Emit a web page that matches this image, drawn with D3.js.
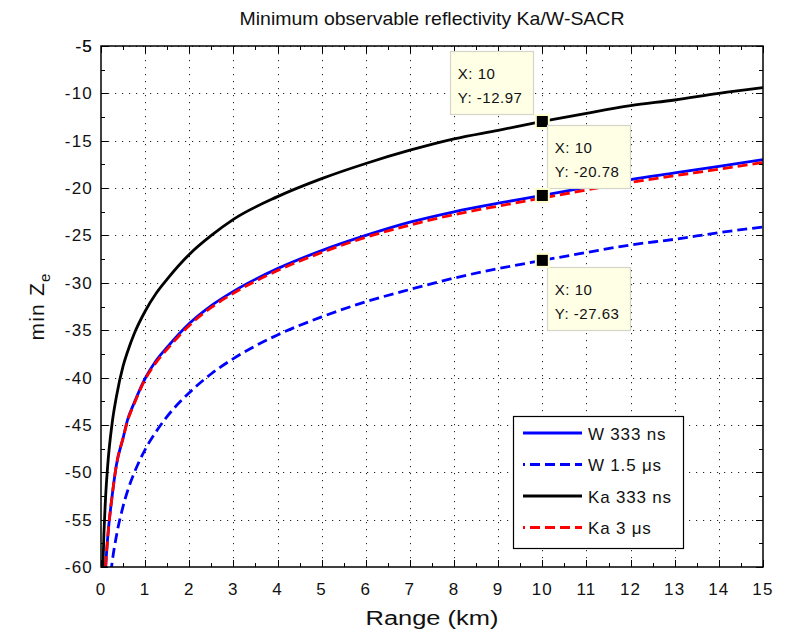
<!DOCTYPE html>
<html>
<head>
<meta charset="utf-8">
<script src="https://cdn.jsdelivr.net/npm/d3@7"></script>
<style>
  html, body { margin: 0; padding: 0; background: #fff; }
  svg { display: block; font-family: "Liberation Sans", Arial, sans-serif; }
</style>
</head>
<body>
<svg id="chart" width="787" height="634"></svg>
<script>
// Range samples (km)
const ranges = [0.03, 0.05, 0.1, 0.15, 0.25, 0.35, 0.5, 0.6, 0.75, 1, 1.25, 1.5, 2, 2.5, 3, 4, 5, 6, 7, 8, 9, 10, 11, 12, 13, 14, 15];

// Minimum detectable reflectivity (dBZ) for each radar mode
const w333ns = [-71.0, -66.5, -60.5, -57.0, -52.6, -49.2, -46.4, -44.5, -42.7, -40.1, -38.2, -36.8, -34.3, -32.4, -30.9, -28.5, -26.6, -25.0, -23.6, -22.5, -21.6, -20.78, -19.9, -19.1, -18.4, -17.7, -17.0];
const w1500ns = [-78.0, -73.5, -67.6, -64.1, -59.6, -56.7, -53.6, -52.0, -50.1, -47.6, -45.7, -44.1, -41.6, -39.6, -38.0, -35.5, -33.6, -32.0, -30.7, -29.5, -28.5, -27.63, -26.8, -26.0, -25.4, -24.7, -24.1];
const ka333ns = [-63.5, -59.0, -53.0, -49.4, -44.9, -42.0, -38.8, -37.3, -35.4, -33.0, -31.1, -29.6, -27.0, -25.0, -23.3, -20.9, -19.0, -17.4, -16.0, -14.8, -13.9, -12.97, -12.1, -11.3, -10.7, -10.0, -9.4];
const ka3us = [-71.0, -66.5, -60.5, -57.0, -52.6, -49.2, -46.4, -44.6, -42.8, -40.2, -38.4, -37.0, -34.5, -32.6, -31.1, -28.7, -26.8, -25.2, -23.9, -22.8, -21.9, -21.05, -20.2, -19.4, -18.7, -18.0, -17.3];

const seriesNames = ["W 333 ns", "W 1.5 \u03bcs", "Ka 333 ns", "Ka 3 \u03bcs"];
const seriesColors = ["#0000ff", "#0000ff", "#000000", "#ff0000"];
const seriesDashed = [false, true, false, true];
const seriesValues = [w333ns, w1500ns, ka333ns, ka3us];

// Data cursors at 10 km
const tipX = [10, 10, 10];
const tipY = [-12.97, -20.78, -27.63];

const xTicks = d3.range(0, 16, 1);
const yTicks = d3.range(-60, 0, 5);

const svg = d3.select("#chart");
const pL = 101, pR = 763, pT = 46, pB = 567;

const x = d3.scaleLinear().domain([0, 15]).range([pL, pR]);
const y = d3.scaleLinear().domain([-60, -5]).range([pB, pT]);

// Grid
const grid = svg.append("g").attr("stroke", "#222").attr("stroke-width", 1)
  .attr("stroke-dasharray", "1.2,5.8");
grid.selectAll(".gx").data(xTicks.slice(1, -1)).join("line")
  .attr("x1", d => Math.round(x(d)) + 0.5).attr("x2", d => Math.round(x(d)) + 0.5)
  .attr("y1", pT).attr("y2", pB);
grid.selectAll(".gy").data(yTicks.slice(1)).join("line")
  .attr("y1", d => Math.round(y(d)) + 0.5).attr("y2", d => Math.round(y(d)) + 0.5)
  .attr("x1", pL).attr("x2", pR);

// Series lines
svg.append("clipPath").attr("id", "plotclip").append("rect")
  .attr("x", pL).attr("y", pT).attr("width", pR - pL).attr("height", pB - pT);

const line = d3.line().x(d => x(d[0])).y(d => y(d[1])).curve(d3.curveMonotoneX);
const plot = svg.append("g").attr("clip-path", "url(#plotclip)");
seriesValues.forEach((vals, i) => {
  plot.append("path")
    .datum(ranges.map((r, k) => [r, vals[k]]))
    .attr("fill", "none")
    .attr("stroke", seriesColors[i])
    .attr("stroke-width", 2.8)
    .attr("stroke-dasharray", seriesDashed[i] ? "10,5" : null)
    .attr("d", line);
});

// Axes (ticks inward, on all four sides)
const minorX = d3.range(0.5, 15, 1);
const minorY = d3.range(-57.5, -5, 5);
const axes = svg.append("g").attr("stroke", "#000");
function tickSet(vals, len, scale, horizontal) {
  vals.forEach(v => {
    const p = Math.round(scale(v)) + 0.5;
    if (horizontal) {
      axes.append("line").attr("x1", p).attr("x2", p).attr("y1", pB).attr("y2", pB - len);
      axes.append("line").attr("x1", p).attr("x2", p).attr("y1", pT).attr("y2", pT + len);
    } else {
      axes.append("line").attr("y1", p).attr("y2", p).attr("x1", pL).attr("x2", pL + len);
      axes.append("line").attr("y1", p).attr("y2", p).attr("x1", pR).attr("x2", pR - len);
    }
  });
}
tickSet(xTicks, 7, x, true);
tickSet(minorX, 4, x, true);
tickSet(yTicks.concat([-5]), 7, y, false);
tickSet(minorY, 4, y, false);
axes.append("rect").attr("x", pL).attr("y", pT).attr("width", pR - pL).attr("height", pB - pT)
  .attr("fill", "none").attr("stroke-width", 1.5);

// Tick labels
svg.append("g").selectAll("text").data(xTicks).join("text")
  .attr("x", d => x(d)).attr("y", pB + 28)
  .attr("text-anchor", "middle").attr("font-size", 17).attr("letter-spacing", 1.2).attr("fill", "#111")
  .text(d => d);
svg.append("g").selectAll("text").data(yTicks.concat([-5])).join("text")
  .attr("x", pL - 8).attr("y", d => y(d) + 6)
  .attr("text-anchor", "end").attr("font-size", 17).attr("letter-spacing", 1.2).attr("fill", "#111")
  .text(d => d);

// Title and axis labels
svg.append("text").attr("x", (pL + pR) / 2).attr("y", 25)
  .attr("text-anchor", "middle").attr("font-size", 19).attr("fill", "#111")
  .attr("textLength", 385).attr("lengthAdjust", "spacingAndGlyphs")
  .text("Minimum observable reflectivity Ka/W-SACR");
svg.append("text").attr("x", (pL + pR) / 2).attr("y", 625)
  .attr("text-anchor", "middle").attr("font-size", 20).attr("fill", "#111")
  .attr("textLength", 133).attr("lengthAdjust", "spacingAndGlyphs")
  .text("Range (km)");
const yl = svg.append("text").attr("transform", "translate(44," + ((pT + pB) / 2) + ") rotate(-90)")
  .attr("text-anchor", "middle").attr("font-size", 21).attr("letter-spacing", 1.2).attr("fill", "#111");
yl.append("tspan").text("min Z");
yl.append("tspan").attr("font-size", 15).attr("dy", 6).text("e");

// Legend
const lg = svg.append("g");
lg.append("rect").attr("x", 513.5).attr("y", 416.5).attr("width", 170).attr("height", 132)
  .attr("fill", "#fff").attr("stroke", "#000").attr("stroke-width", 1.2);
seriesNames.forEach((name, i) => {
  const yy = 433 + i * 31.5;
  lg.append("line").attr("x1", 523).attr("x2", 582).attr("y1", yy).attr("y2", yy)
    .attr("stroke", seriesColors[i]).attr("stroke-width", 2.8)
    .attr("stroke-dasharray", seriesDashed[i] ? "10,5" : null)
    .attr("stroke-dashoffset", seriesDashed[i] ? -7 : null);
  lg.append("text").attr("x", 588).attr("y", yy + 6.5).attr("font-size", 17).attr("letter-spacing", 0.8)
    .attr("fill", "#111").text(name);
});

// Data cursors
const tipOffsets = [[-92, -70], [5, -70], [5, 7]];
tipX.forEach((tx, i) => {
  const px = x(tx), py = y(tipY[i]);
  const bx = px + tipOffsets[i][0], by = py + tipOffsets[i][1];
  const g = svg.append("g");
  g.append("rect").attr("x", Math.round(bx) + 0.5).attr("y", Math.round(by) + 0.5)
    .attr("width", 83).attr("height", 63)
    .attr("fill", "#ffffe6").attr("stroke", "#d6d6c8").attr("stroke-width", 1.2);
  g.append("text").attr("x", bx + 7.5).attr("y", by + 28).attr("font-size", 15).attr("letter-spacing", 0.5)
    .attr("fill", "#111").text("X: " + tx);
  g.append("text").attr("x", bx + 7.5).attr("y", by + 52).attr("font-size", 15).attr("letter-spacing", 0.5)
    .attr("fill", "#111").text("Y: " + tipY[i].toFixed(2));
  g.append("rect").attr("x", px - 6.5).attr("y", py - 6.5).attr("width", 13).attr("height", 13)
    .attr("fill", "#000").attr("stroke", "#ffffcc").attr("stroke-width", 2);
});
</script>
</body>
</html>
